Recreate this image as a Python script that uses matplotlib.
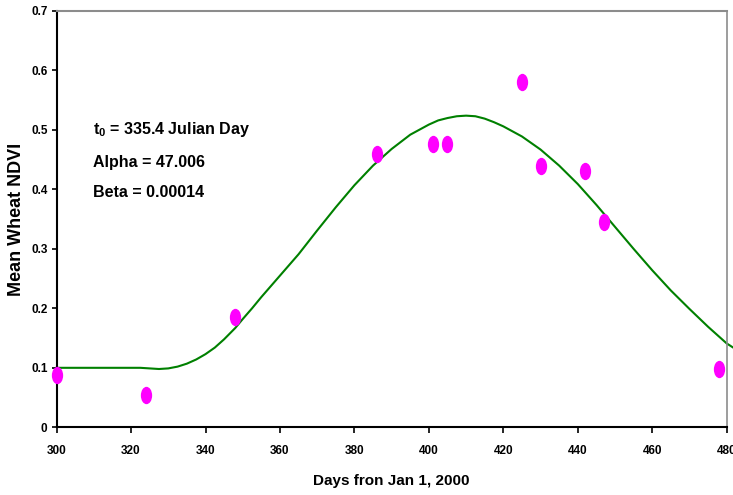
import numpy as np
import matplotlib
matplotlib.use("Agg")
import matplotlib.pyplot as plt
from matplotlib.path import Path
from matplotlib.transforms import Affine2D

# observed NDVI
obs_days = [300, 324, 348, 386, 401, 405, 425, 430, 442, 447, 478]
obs_ndvi = [0.088, 0.054, 0.185, 0.460, 0.477, 0.477, 0.581, 0.440, 0.431, 0.346, 0.098]

# fitted curve
fit_days = [300, 305, 310, 315, 320, 322.5, 325, 327.5, 330, 332.5, 335, 337.5, 340,
            342.5, 345, 348, 350, 352.5, 355, 357.5, 360, 365, 370, 375, 380, 385,
            390, 395, 400, 402.5, 405, 407.5, 410, 412.5, 415, 417.5, 420, 425,
            430, 435, 440, 445, 450, 455, 460, 465, 470, 475, 480, 482]
fit_ndvi = [0.100, 0.100, 0.100, 0.100, 0.100, 0.100, 0.099, 0.098, 0.099, 0.102,
            0.107, 0.114, 0.123, 0.134, 0.148, 0.167, 0.182, 0.200, 0.219, 0.237,
            0.255, 0.291, 0.331, 0.370, 0.407, 0.440, 0.468, 0.492, 0.509, 0.516,
            0.520, 0.523, 0.524, 0.523, 0.519, 0.513, 0.506, 0.489, 0.467, 0.440,
            0.409, 0.374, 0.337, 0.300, 0.264, 0.230, 0.199, 0.169, 0.141, 0.133]

x_ticks = [300, 320, 340, 360, 380, 400, 420, 440, 460, 480]
y_ticks = [0, 0.1, 0.2, 0.3, 0.4, 0.5, 0.6, 0.7]
y_ticklabels = ["0", "0.1", "0.2", "0.3", "0.4", "0.5", "0.6", "0.7"]

sans = ["Liberation Sans", "DejaVu Sans"]

fig = plt.figure(figsize=(7.33, 4.95), dpi=100)
ax = fig.add_axes([0.0772, 0.1368, 0.9142, 0.8410])

# elliptical marker (taller than wide)
ell = Path.unit_circle().transformed(Affine2D().scale(0.65, 1.0))

ax.plot(fit_days, fit_ndvi, color="#008000", lw=1.5, clip_on=False, zorder=2)
ax.plot(obs_days, obs_ndvi, ls="none", marker=ell, ms=12.5, color="#ff00ff",
        markeredgewidth=0, clip_on=False, zorder=3)

ax.set_xlim(300, 480)
ax.set_ylim(0, 0.7)
ax.set_xticks(x_ticks)
ax.set_yticks(y_ticks)
ax.set_yticklabels(y_ticklabels)

for lab in ax.get_xticklabels() + ax.get_yticklabels():
    lab.set_family(sans)
    lab.set_fontweight("bold")
    lab.set_fontsize(8.5)

ax.tick_params(axis="x", direction="out", length=4, width=1.2, pad=9)
ax.tick_params(axis="y", direction="out", length=3.5, width=1.2, pad=3)

ax.spines["left"].set_linewidth(1.5)
ax.spines["bottom"].set_linewidth(1.5)
ax.spines["top"].set_color("#8c8c8c")
ax.spines["right"].set_color("#8c8c8c")
ax.spines["top"].set_linewidth(1.5)
ax.spines["right"].set_linewidth(1.2)

ax.set_xlabel("Days fron Jan 1, 2000", family=sans, fontweight="bold", fontsize=11)
ax.xaxis.set_label_coords(0.5, -0.112)
ax.set_ylabel("Mean Wheat NDVI", family=sans, fontweight="bold", fontsize=13)
ax.yaxis.set_label_coords(-0.047, 0.5)

ax.text(309.8, 0.50, r"t$_\mathregular{0}$ = 335.4 Julian Day", family=sans,
        fontweight="bold", fontsize=11.5, va="center")
ax.text(309.8, 0.445, "Alpha = 47.006", family=sans, fontweight="bold",
        fontsize=11.5, va="center")
ax.text(309.8, 0.394, "Beta = 0.00014", family=sans, fontweight="bold",
        fontsize=11.5, va="center")

fig.savefig("out.png", dpi=100)
